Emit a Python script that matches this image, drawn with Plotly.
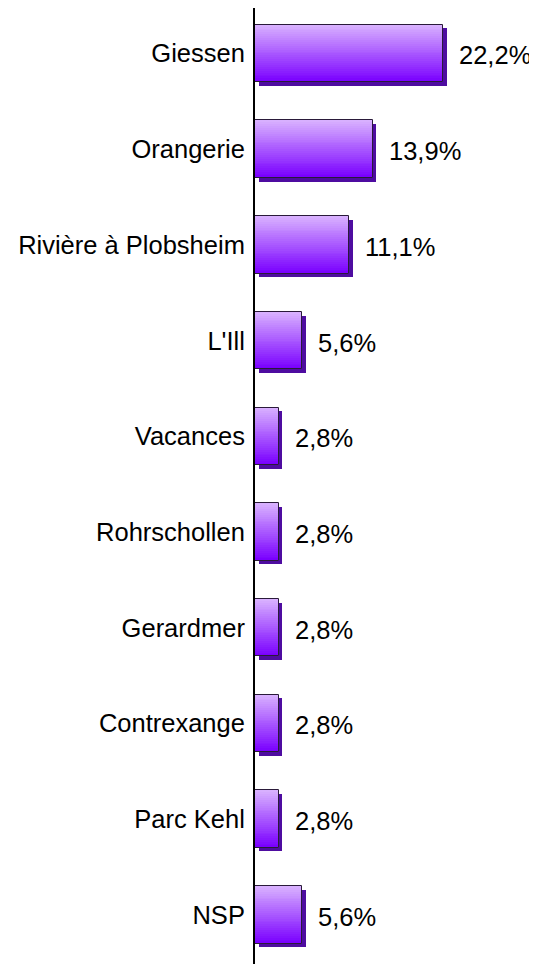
import plotly.graph_objects as go

categories = ["Giessen", "Orangerie", "Rivière à Plobsheim", "L'Ill", "Vacances",
              "Rohrschollen", "Gerardmer", "Contrexange", "Parc Kehl", "NSP"]
values = [22.2, 13.9, 11.1, 5.6, 2.8, 2.8, 2.8, 2.8, 2.8, 5.6]
value_labels = ["22,2%", "13,9%", "11,1%", "5,6%", "2,8%", "2,8%", "2,8%", "2,8%", "2,8%", "5,6%"]

BAR_W = 0.6
N_STRIPS = 30
TOP_RGB = (216, 176, 255)
BOT_RGB = (122, 0, 255)
FONT = "Liberation Sans, Arial, sans-serif"
FS = 25.5

fig = go.Figure()

# shadow (offset down/right)
fig.add_trace(go.Bar(
    y=categories, x=values, base=0.42, orientation="h",
    width=BAR_W, offset=-BAR_W / 2 + 0.038,
    marker=dict(color="#4e0ca0", line=dict(width=0)),
    hoverinfo="skip", showlegend=False))

# vertical gradient built from overlapping strips
for i in range(N_STRIPS):
    t = i / (N_STRIPS - 1)
    r = round(TOP_RGB[0] + (BOT_RGB[0] - TOP_RGB[0]) * t)
    g = round(TOP_RGB[1] + (BOT_RGB[1] - TOP_RGB[1]) * t)
    b = round(TOP_RGB[2] + (BOT_RGB[2] - TOP_RGB[2]) * t)
    step = BAR_W / N_STRIPS
    fig.add_trace(go.Bar(
        y=categories, x=values, orientation="h",
        width=BAR_W - i * step, offset=-BAR_W / 2 + i * step,
        marker=dict(color=f"rgb({r},{g},{b})", line=dict(width=0)),
        hoverinfo="skip", showlegend=False))

# outline
fig.add_trace(go.Bar(
    y=categories, x=values, orientation="h",
    width=BAR_W, offset=-BAR_W / 2,
    marker=dict(color="rgba(0,0,0,0)", line=dict(color="#2a1a3a", width=1)),
    hoverinfo="skip", showlegend=False))

for c, v, lab in zip(categories, values, value_labels):
    fig.add_annotation(x=v, y=c, text=lab, showarrow=False, xanchor="left",
                       xshift=14, yshift=-2,
                       font=dict(family=FONT, size=FS, color="black"))

fig.update_layout(
    width=529, height=956,
    margin=dict(l=247, r=28, t=0, b=0),
    paper_bgcolor="white", plot_bgcolor="white",
    barmode="overlay", bargap=0,
    font=dict(family=FONT, size=FS, color="black"),
    xaxis=dict(range=[0, 30], visible=False, showgrid=False, zeroline=False),
    yaxis=dict(range=[9.514, -0.475], showgrid=False, zeroline=False,
               showline=True, linecolor="black", linewidth=2, layer="above traces",
               ticks="", ticklabelstandoff=3, automargin=False,
               tickfont=dict(family=FONT, size=FS, color="black")),
)

fig.write_html("out.html")
